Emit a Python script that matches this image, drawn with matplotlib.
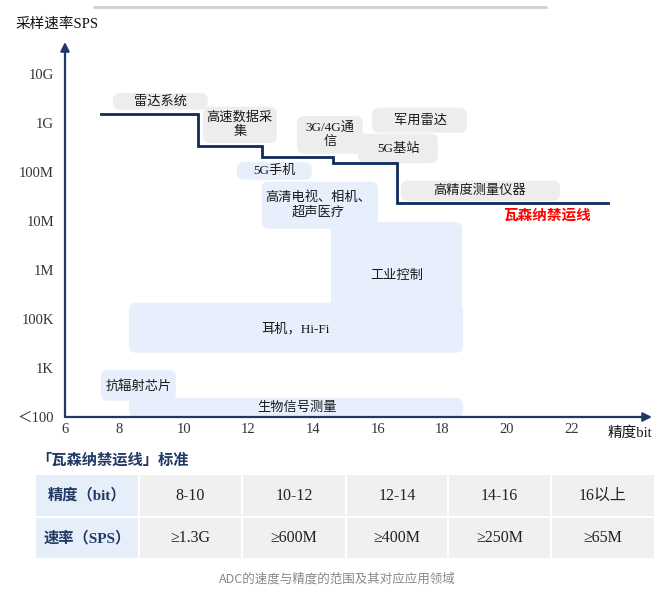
import matplotlib
matplotlib.use('Agg')
import matplotlib.pyplot as plt
from matplotlib.patches import FancyBboxPatch, Rectangle

plt.rcParams['font.family'] = ['Liberation Serif', 'Noto Sans CJK SC']

# ---------------- data ----------------
x_ticks = [6.32, 8, 10, 12, 14, 16, 18, 20, 22]
x_tick_labels = ['6', '8', '10', '12', '14', '16', '18', '20', '22']
y_levels = [0, 1, 2, 3, 4, 5, 6, 7]
y_tick_labels = ['＜100', '1K', '100K', '1M', '10M', '100M', '1G', '10G']

# Wassenaar line (bits, rate level on category axis)
line_bits = [7.43, 10.45, 12.41, 14.61, 16.59, 23.13]
line_rate = [6.18, 5.53, 5.31, 5.18, 4.36, 4.36]

app_names = ['雷达系统', '高速数据采\n集', '3G/4G通\n信', '军用雷达', '5G基站', '高精度测量仪器',
             '5G手机', '高清电视、相机、\n超声医疗', '工业控制', '耳机，Hi-Fi', '抗辐射芯片', '生物信号测量']
app_bit_lo = [7.80, 10.59, 13.50, 15.82, 15.39, 16.72, 11.64, 12.41, 14.55, 8.30, 7.43, 8.30]
app_bit_hi = [10.74, 12.88, 15.54, 18.76, 17.86, 21.64, 13.96, 16.01, 18.61, 18.64, 9.75, 18.64]
app_rate_lo = [6.27, 5.59, 5.37, 5.80, 5.18, 4.41, 4.84, 3.84, 2.10, 1.31, 0.33, 0.0]
app_rate_hi = [6.61, 6.33, 6.14, 6.31, 5.78, 4.82, 5.20, 4.80, 3.98, 2.33, 0.96, 0.39]
app_group = ['high', 'high', 'high', 'high', 'high', 'high', 'mid', 'mid', 'mid', 'mid', 'mid', 'mid']
app_label_x = [9.29, 11.73, 14.52, 17.31, 16.63, 19.16, 12.82, 14.15, 16.59, 13.47, 8.61, 13.50]
app_label_y = [6.43, 5.96, 5.76, 6.04, 5.47, 4.61, 5.02, 4.33, 2.88, 1.80, 0.63, 0.18]

wassenaar_label = '瓦森纳禁运线'
wassenaar_label_pos = (21.24, 4.10)

table_title = '「瓦森纳禁运线」标准'
table_row_headers = ['精度（bit）', '速率（SPS）']
table_bits = ['8-10', '10-12', '12-14', '14-16', '16以上']
table_rates = ['≥1.3G', '≥600M', '≥400M', '≥250M', '≥65M']
caption = 'ADC的速度与精度的范围及其对应应用领域'

# ---------------- style ----------------
W, H = 654, 593
navy = '#1F3864'
line_navy = '#0F2A5C'
group_color = {'high': '#EDEDED', 'mid': '#E8EFFC'}

fig = plt.figure(figsize=(W / 100, H / 100), dpi=100)
fig.patch.set_facecolor('white')

# overlay in pixel coordinates
ov = fig.add_axes([0, 0, 1, 1], zorder=0)
ov.set_xlim(0, W)
ov.set_ylim(H, 0)
ov.axis('off')

# main chart axes
ax_left, ax_right, ax_top, ax_bottom = 65, 652, 42, 417
ax = fig.add_axes([ax_left / W, 1 - ax_bottom / H, (ax_right - ax_left) / W, (ax_bottom - ax_top) / H], zorder=1)
ax.patch.set_alpha(0)
XMIN, XMAX, YMAX = 6.32, 24.49, 7.65
ax.set_xlim(XMIN, XMAX)
ax.set_ylim(0, YMAX)
for s in ax.spines.values():
    s.set_visible(False)

ax.set_xticks(x_ticks)
ax.set_xticklabels(x_tick_labels, fontsize=10.5, color='#333333')
ax.set_yticks(y_levels)
ax.set_yticklabels(y_tick_labels, fontsize=10.5, color='#333333')
ax.tick_params(axis='both', length=0)
ax.tick_params(axis='x', pad=4)
ax.tick_params(axis='y', pad=8)

# axes arrows
ax.annotate('', xy=(XMAX, 0), xytext=(XMIN, 0), annotation_clip=False,
            arrowprops=dict(arrowstyle='-|>', color=navy, lw=1.6, mutation_scale=13,
                            shrinkA=0, shrinkB=0))
ax.annotate('', xy=(XMIN, YMAX), xytext=(XMIN, 0), annotation_clip=False,
            arrowprops=dict(arrowstyle='-|>', color=navy, lw=1.6, mutation_scale=13,
                            shrinkA=0, shrinkB=0))

# application boxes
aspect = (32.3) / (49.0)
for name, x0, x1, y0, y1, g in zip(app_names, app_bit_lo, app_bit_hi, app_rate_lo,
                                   app_rate_hi, app_group):
    box = FancyBboxPatch((x0, y0), x1 - x0, y1 - y0,
                         boxstyle='round,pad=0,rounding_size=0.22',
                         mutation_aspect=aspect, fc=group_color[g], ec='none',
                         zorder=1, clip_on=False)
    ax.add_patch(box)
for name, lx, ly in zip(app_names, app_label_x, app_label_y):
    ax.text(lx, ly, name, ha='center', va='center', fontsize=9.5, color='#1a1a1a',
            linespacing=1.25, zorder=4)

# Wassenaar step line
ax.step(line_bits, line_rate, where='post', color=line_navy, lw=2.0, zorder=3,
        solid_joinstyle='miter', clip_on=False)
ax.text(wassenaar_label_pos[0], wassenaar_label_pos[1], wassenaar_label, ha='center', va='center',
        fontsize=10.5, color='#FF0000', fontweight='bold', zorder=4)

# axis titles
ov.text(15, 24, '采样速率SPS', ha='left', va='center', fontsize=10.5, color='#111111')
ov.text(608, 433, '精度bit', ha='left', va='center', fontsize=10.5, color='#111111')

# top shadow line
ov.plot([94, 546], [7, 7], color='#CFCFCF', lw=2.0, solid_capstyle='round')

# table
ov.text(36, 460, table_title, ha='left', va='center', fontsize=11, color=navy, fontweight='bold')
col_l = [36, 140, 243, 347, 449, 552]
col_r = [138, 241, 345, 447, 550, 654]
row_t = [475, 518]
row_b = [516, 558]
rows = [table_bits, table_rates]
for r in range(2):
    cells = [table_row_headers[r]] + rows[r]
    for c in range(6):
        fc = '#E6EEFA' if c == 0 else '#F0F0F0'
        ov.add_patch(Rectangle((col_l[c], row_t[r]), col_r[c] - col_l[c], row_b[r] - row_t[r],
                               fc=fc, ec='none'))
        if c == 0:
            ov.text((col_l[c] + col_r[c]) / 2, (row_t[r] + row_b[r]) / 2, cells[c], ha='center',
                    va='center', fontsize=11, color=navy, fontweight='bold')
        else:
            ov.text((col_l[c] + col_r[c]) / 2, (row_t[r] + row_b[r]) / 2, cells[c], ha='center',
                    va='center', fontsize=11.5, color='#222222')

ov.text(337, 579, caption, ha='center', va='center', fontsize=9, color='#888888',
        family=['Noto Sans CJK SC', 'DejaVu Sans'])

fig.savefig('out.png', dpi=100)
